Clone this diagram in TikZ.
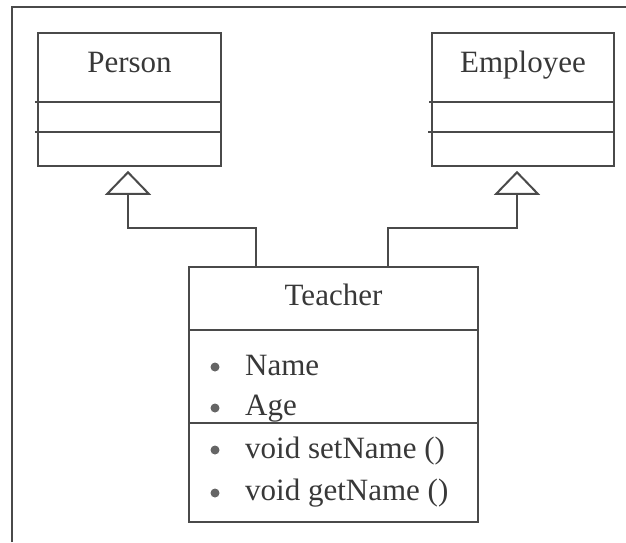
\documentclass[tikz,border=0pt]{standalone}
\usepackage{fontspec}
\setmainfont{Liberation Serif}
\usetikzlibrary{arrows.meta}
\definecolor{ink}{HTML}{4A4A4A}
\definecolor{txt}{HTML}{383838}
\tikzstyle{every node}=[text=txt, font=\fontsize{31}{37}\selectfont, inner sep=0pt]
\tikzstyle{classbox}=[draw=ink, line width=1.7pt, rectangle]
\tikzstyle{inherit}=[draw=ink, line width=1.4pt, -{Triangle[open, width=46pt, length=24pt, line width=2pt]}]

\begin{document}
\begin{tikzpicture}[x=1pt, y=-1pt, ink]
\useasboundingbox (0,0) rectangle (626,542);
% Frame
    \draw[line width=2.4pt] (12,542) |- (626,7);
% Classes
    \node[classbox, minimum width=183pt, minimum height=133pt] (person) at (129.5,99.5) {};
    \node[classbox, minimum width=182pt, minimum height=133pt] (employee) at (523,99.5) {};
    \node[classbox, minimum width=289pt, minimum height=255pt] (teacher) at (333.5,394.5) {};
% Compartments
    \draw[line width=1.4pt] ([xshift=-2pt, yshift=-70pt]person.north west) -- ([yshift=-70pt]person.north east);
    \draw[line width=1.4pt] ([xshift=-2pt, yshift=-100pt]person.north west) -- ([yshift=-100pt]person.north east);
    \draw[line width=1.4pt] ([xshift=-2pt, yshift=-70pt]employee.north west) -- ([yshift=-70pt]employee.north east);
    \draw[line width=1.4pt] ([xshift=-3pt, yshift=-100pt]employee.north west) -- ([yshift=-100pt]employee.north east);
    \draw[line width=1.4pt] ([yshift=-64pt]teacher.north west) -- ([yshift=-64pt]teacher.north east);
    \draw[line width=1.4pt] ([yshift=-157pt]teacher.north west) -- ([yshift=-157pt]teacher.north east);
% Names
    \node[anchor=base] (personname) at (129.5,72) {Person};
    \node[anchor=base] (employeename) at (523,72) {Employee};
    \node[anchor=base] (teachername) at (333.5,305) {Teacher};
% Members
    \fill[ink!85] (215,367) circle[radius=4.5pt];
    \fill[ink!85] (215,408) circle[radius=4.5pt];
    \fill[ink!85] (215,450) circle[radius=4.5pt];
    \fill[ink!85] (215,493) circle[radius=4.5pt];
    \node[anchor=base west] (name) at (245,375) {Name};
    \node[anchor=base west] (age) at (245,415) {Age};
    \node[anchor=base west] (setname) at (245,458) {void setName ()};
    \node[anchor=base west] (getname) at (245,500) {void getName ()};
% Generalisations
    \coordinate (tleft) at ([xshift=-77.5pt]teacher.north);
    \coordinate (tright) at ([xshift=54.5pt]teacher.north);
    \draw[inherit] (tleft) -- ++(0,-38) -| ([xshift=-1.5pt, yshift=-4pt]person.south);
    \draw[inherit] (tright) -- ++(0,-38) -| ([xshift=-6pt, yshift=-4pt]employee.south);
\end{tikzpicture}
\end{document}
